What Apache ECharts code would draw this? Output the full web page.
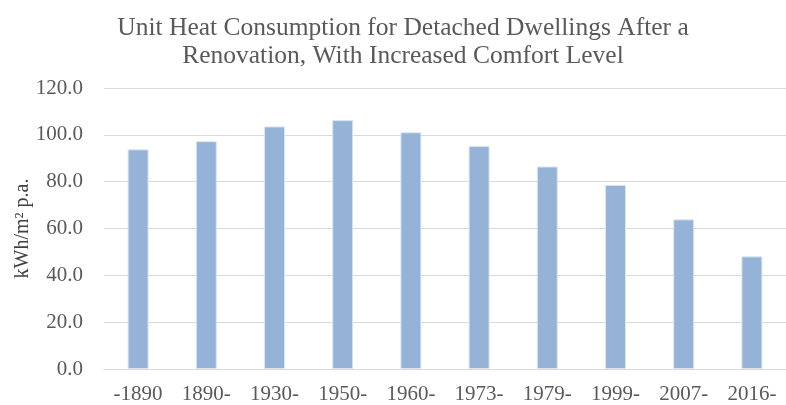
<!DOCTYPE html>
<html>
<head>
<meta charset="utf-8">
<script src="https://cdn.jsdelivr.net/npm/echarts@6/dist/echarts.min.js"></script>
<style>
  html, body { margin: 0; padding: 0; background: #fff; }
  #chart { width: 786px; height: 405px; }
</style>
</head>
<body>
<div id="chart"></div>
<script>
// données
var periods = ['-1890', '1890-', '1930-', '1950-', '1960-', '1973-', '1979-', '1999-', '2007-', '2016-'];
var heatValues = [93.8, 97.3, 103.6, 106.3, 101.1, 95.2, 86.5, 78.6, 63.9, 48.1];
var yTicks = [0, 20, 40, 60, 80, 100, 120];

var serif = '"Liberation Serif", "DejaVu Serif", serif';

var chart = echarts.init(document.getElementById('chart'));
chart.setOption({
    animation: false,
    title: {
        text: 'Unit Heat Consumption for Detached Dwellings After a\nRenovation, With Increased Comfort Level',
        left: 398,
        textAlign: 'center',
        top: 9,
        textStyle: {
            fontFamily: serif,
            fontWeight: 'normal',
            fontSize: 25.5,
            lineHeight: 28,
            color: '#595959'
        }
    },
    grid: {
        top: 88,
        bottom: 33,
        left: 104,
        right: -12
    },
    xAxis: {
        type: 'category',
        data: periods,
        axisLine: { lineStyle: { color: '#d9d9d9' } },
        axisTick: { show: false },
        axisLabel: {
            fontFamily: serif,
            fontSize: 21,
            color: '#595959',
            margin: 15
        }
    },
    yAxis: {
        type: 'value',
        min: yTicks[0],
        max: yTicks[yTicks.length - 1],
        interval: 20,
        name: 'kWh/m² p.a.',
        nameLocation: 'middle',
        nameGap: 71,
        nameMoveOverlap: false,
        nameTextStyle: {
            fontFamily: serif,
            fontSize: 20,
            color: '#404040'
        },
        axisLine: { show: false },
        axisTick: { show: false },
        splitLine: { lineStyle: { color: '#d9d9d9' } },
        axisLabel: {
            fontFamily: serif,
            fontSize: 21,
            color: '#595959',
            margin: 21,
            formatter: function (v) { return v.toFixed(1); }
        }
    },
    series: [{
        type: 'bar',
        data: heatValues,
        barWidth: 21,
        itemStyle: {
            color: '#95b3d7',
            borderColor: '#dce6f2',
            borderWidth: 1
        }
    }]
});
</script>
</body>
</html>
